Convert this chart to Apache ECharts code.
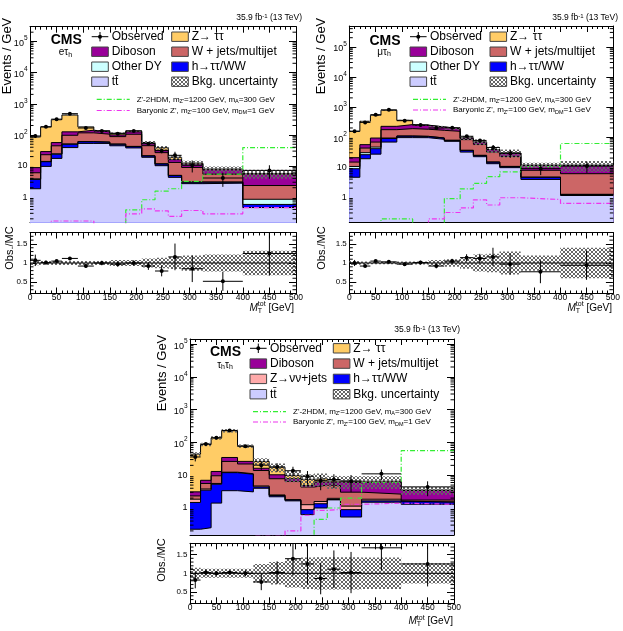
<!DOCTYPE html>
<html>
<head>
<meta charset="utf-8">
<script src="https://cdn.jsdelivr.net/npm/echarts@6/dist/echarts.min.js"></script>
<style>
  html, body { margin: 0; padding: 0; background: #fff; }
  #chart { width: 623px; height: 631px; }
</style>
</head>
<body>
<div id="chart"></div>
<script>
(function () {
    var FONT = '"Liberation Sans", Arial, Helvetica, sans-serif';

    // bin edges of M_T^tot [GeV]
    var binEdges = [0, 20, 40, 60, 90, 120, 150, 180, 210, 235, 260, 285, 325, 400, 500];

    // e tau_h (events / GeV)
    var etauTT = [1.85, 9.7, 17.5, 39, 53, 53, 44.6, 38, 19, 10.2, 4.3, 2.7, 2.8, 0.46];
    var etauHiggs = [1.85, 4.0, 6.5, 11, 7, 5, 5.4, 4, 2, 1.4, 0.6, 0.3, 0.2, 0.12];
    var etauOtherDY = [0.15, 0.3, 0.5, 1.0, 1.0, 1.0, 0.8, 0.6, 0.4, 0.2, 0.1, 0.06, 0.05, 0.27];
    var etauWjets = [2.2, 9, 20, 46, 55, 46, 37, 62, 23.5, 15, 8, 5.9, 2.4, 1.5];
    var etauDiboson = [2.8, 6, 12, 28, 25, 20, 12, 20, 8, 5, 3, 2.6, 2.1, 3.1];
    var etauZtt = [77, 151, 252, 310, 39, 9, 13, 9, 4, 7, 3, 0.8, 0.4, 0.3];
    var etauObs = [92, 182, 320, 480, 166, 134, 109, 134, 52, 31, 22, 10.5, 4.1, 7.2];
    var etauRatio = [1.07, 1.01, 1.05, 1.12, 0.92, 1.00, 0.97, 1.00, 0.92, 0.79, 1.16, 0.85, 0.52, 1.25];
    var etauRatioErr = [0.15, 0.05, 0.03, 0.03, 0.05, 0.06, 0.07, 0.07, 0.1, 0.14, 0.35, 0.35, 0.25, 0.58];
    var etauBkgUnc = [0.06, 0.05, 0.05, 0.05, 0.05, 0.05, 0.08, 0.08, 0.12, 0.14, 0.16, 0.2, 0.22, 0.32];
    var etauZp2HDM = [0.05, 0.05, 0.05, 0.05, 0.05, 0.05, 0.05, 0.39, 0.82, 1.55, 1.85, 3.2, 5.5, 39];
    var etauZpBaryonic = [0.05, 0.1, 0.17, 0.17, 0.17, 0.1, 0.1, 0.29, 0.42, 0.36, 0.24, 0.37, 0.29, 0.46];

    // mu tau_h
    var mutauTT = [4.6, 19, 27, 68, 95.6, 95, 84, 72, 31.6, 22.2, 13, 9.6, 3.9, 1.14];
    var mutauHiggs = [4.25, 6.9, 14, 21.6, 12, 10, 8.6, 5.6, 4.4, 2.3, 1.7, 0.9, 0.7, 0.09];
    var mutauOtherDY = [1.65, 4.3, 5.4, 3, 0.5, 0.5, 0.4, 0.3, 0.2, 0.1, 0.1, 0.05, 0.05, 0.02];
    var mutauWjets = [4.2, 12.8, 21.6, 83, 82, 76, 74, 77, 46, 32.5, 17, 12.2, 3.2, 4.8];
    var mutauDiboson = [5.9, 12.8, 24.6, 51, 69, 64, 48, 35, 10.6, 11, 6.4, 6.6, 3.6, 5.4];
    var mutauZtt = [134, 277, 435, 549, 101, 3, 2, 3, 0.5, 0.5, 0.3, 0.2, 0.1, 0.05];
    var mutauObs = [155, 306, 554, 800, 349, 251, 200, 203, 106, 77, 45, 28.7, 8.9, 10.8];
    var mutauRatio = [1.00, 0.92, 1.05, 1.03, 0.97, 1.01, 0.92, 1.05, 1.14, 1.12, 1.16, 0.97, 0.77, 0.94];
    var mutauRatioErr = [0.08, 0.03, 0.03, 0.02, 0.04, 0.05, 0.06, 0.06, 0.09, 0.12, 0.24, 0.28, 0.3, 0.38];
    var mutauBkgUnc = [0.05, 0.04, 0.03, 0.03, 0.04, 0.04, 0.08, 0.1, 0.15, 0.22, 0.24, 0.3, 0.2, 0.4];
    var mutauZp2HDM = [0.05, 0.05, 0.1, 0.19, 0.19, 0.12, 0.12, 0.9, 1.9, 2.9, 4.8, 7, 10.5, 61];
    var mutauZpBaryonic = [0.05, 0.05, 0.05, 0.05, 0.05, 0.05, 0.19, 0.31, 0.44, 0.82, 0.55, 0.96, 0.84, 0.62];

    // tau_h tau_h
    var tautauTT = [0.225, 0.25, 1.41, 3.37, 3.1, 4.0, 2.2, 1.65, 0.63, 1.0, 1.77, 0.53, 1.5, 1.3];
    var tautauHiggs = [1.25, 3.25, 3.9, 8.6, 7.6, 0.4, 0.2, 0.1, 0.26, 0.35, 0.05, 0.36, 0.15, 0.2];
    var tautauZnn = [0.38, 0.3, 0.3, 0.4, 0.4, 0.3, 0.1, 0.05, 0.37, 0.23, 0.15, 0.25, 0.2, 0.05];
    var tautauWjets = [0.48, 1.8, 4.0, 14, 10.9, 9.2, 5.3, 4.7, 3.1, 3.4, 2.9, 1.9, 0.8, 0.2];
    var tautauDiboson = [0.77, 1.4, 3.4, 8.4, 4.4, 2.4, 2.5, 1.35, 0.5, 1.2, 1.3, 2.9, 3.6, 1.7];
    var tautauZtt = [40.7, 80, 125, 193, 51, 10, 7.2, 2, 2.6, 1.7, 0.5, 0.6, 0.3, 0.05];
    var tautauObs = [36, 89, 138, 232, 77, 20.3, 17.9, 13.7, 9.3, 6.8, 7.4, 6.6, 11, 4.4];
    var tautauRatio = [0.82, 1.02, 1.00, 1.02, 1.00, 0.77, 1.02, 1.39, 1.25, 0.86, 1.11, 1.02, 1.68, 1.25];
    var tautauRatioErr = [0.22, 0.08, 0.06, 0.05, 0.08, 0.22, 0.3, 0.45, 0.55, 0.42, 0.5, 0.55, 0.6, 0.6];
    var tautauBkgUnc = [0.15, 0.12, 0.12, 0.12, 0.12, 0.25, 0.3, 0.38, 0.42, 0.43, 0.43, 0.43, 0.42, 0.27];
    var tautauZp2HDM = [0.05, 0.05, 0.05, 0.05, 0.05, 0.05, 0.05, 0.05, 0.05, 0.45, 1.0, 2.0, 6.0, 56];
    var tautauZpBaryonic = [0.05, 0.05, 0.05, 0.05, 0.05, 0.14, 0.14, 0.2, 0.6, 0.85, 0.9, 1.3, 1.4, 1.3];

    var COL = {
        tt: '#ccccff', higgs: '#0000ff', otherDY: '#ccffff', znn: '#ffaaaa',
        wjets: '#cc6666', diboson: '#990099', ztt: '#ffcc66',
        zp2hdm: '#33ee33', baryonic: '#ee33ee'
    };
    var DASHDOT = [5, 2, 1, 2];

    // cross hatch like ROOT style 3013
    function hatchCanvas() {
        var c = document.createElement('canvas');
        c.width = 4; c.height = 4;
        var ctx = c.getContext('2d');
        ctx.fillStyle = '#666';
        for (var i = 0; i < 4; i++) {
            ctx.fillRect(i, i, 1, 1);
            ctx.fillRect(3 - i, i, 1, 1);
        }
        return c;
    }
    var HATCH = {image: hatchCanvas(), repeat: 'repeat'};

    var measureCtx = document.createElement('canvas').getContext('2d');
    function textWidth(t, font) {
        measureCtx.font = font;
        return measureCtx.measureText(t).width;
    }

    var panels = [
        {
            mainBox: {left: 30, top: 26.7, width: 266, height: 196},
            ratioBox: {left: 30, top: 232.5, width: 266, height: 61},
            ymax: 3.0e5,
            layers: [etauTT, etauHiggs, etauOtherDY, etauWjets, etauDiboson, etauZtt],
            colors: [COL.tt, COL.higgs, COL.otherDY, COL.wjets, COL.diboson, COL.ztt],
            obs: etauObs, ratio: etauRatio, ratioErr: etauRatioErr, unc: etauBkgUnc,
            sigA: etauZp2HDM, sigB: etauZpBaryonic,
            third: ['Other DY', COL.otherDY],
            chan: 'e\u03c4{s|h}',
            cms: [66.3, 40], chanPos: [65.5, 52.5], lumi: [302, 18],
            leg: {cols: [91.7, 171.7], y0: 36.7, dy: 15, sigX: 96.7, sigY: [99.3, 110.5]},
            ytitle: [7, 56], rtitle: [10, 248], xtitle: [294, 308]
        },
        {
            mainBox: {left: 349.3, top: 26, width: 264, height: 196},
            ratioBox: {left: 349.3, top: 232.5, width: 264, height: 61},
            ymax: 4.9e5,
            layers: [mutauTT, mutauHiggs, mutauOtherDY, mutauWjets, mutauDiboson, mutauZtt],
            colors: [COL.tt, COL.higgs, COL.otherDY, COL.wjets, COL.diboson, COL.ztt],
            obs: mutauObs, ratio: mutauRatio, ratioErr: mutauRatioErr, unc: mutauBkgUnc,
            sigA: mutauZp2HDM, sigB: mutauZpBaryonic,
            third: ['Other DY', COL.otherDY],
            chan: '\u03bc\u03c4{s|h}',
            cms: [385, 40.7], chanPos: [384, 52], lumi: [618, 18],
            leg: {cols: [410, 490], y0: 36.7, dy: 15, sigX: 413, sigY: [99.3, 110]},
            ytitle: [321, 56], rtitle: [322, 248], xtitle: [612, 308]
        },
        {
            mainBox: {left: 190, top: 339, width: 264, height: 196},
            ratioBox: {left: 190, top: 543.3, width: 264, height: 60},
            ymax: 1.43e5,
            layers: [tautauTT, tautauHiggs, tautauZnn, tautauWjets, tautauDiboson, tautauZtt],
            colors: [COL.tt, COL.higgs, COL.znn, COL.wjets, COL.diboson, COL.ztt],
            obs: tautauObs, ratio: tautauRatio, ratioErr: tautauRatioErr, unc: tautauBkgUnc,
            sigA: tautauZp2HDM, sigB: tautauZpBaryonic,
            third: ['Z\u2192\u03bd\u03bd+jets', COL.znn],
            chan: '\u03c4{s|h}\u03c4{s|h}',
            cms: [225.5, 351.7], chanPos: [225, 365], lumi: [460, 330],
            leg: {cols: [250, 333.3], y0: 348.3, dy: 15.3, sigX: 253, sigY: [411.7, 422]},
            ytitle: [162, 373], rtitle: [162, 560], xtitle: [453, 621.5]
        }
    ];

    var YMIN = 0.15;
    var grids = [], xAxes = [], yAxes = [], series = [], graphics = [];

    function frameAxisX(gi, pos, labels) {
        return {
            type: 'value', gridIndex: gi, position: pos, min: 0, max: 500, interval: 50,
            axisLine: {show: true, onZero: false, lineStyle: {color: '#000', width: 1}},
            axisTick: {show: true, inside: true, length: 6, lineStyle: {color: '#000', width: 1}},
            minorTick: {show: true, splitNumber: 5, length: 3, lineStyle: {color: '#000', width: 1}},
            axisLabel: {show: labels, fontSize: 8.5, color: '#000', margin: 0},
            splitLine: {show: false}
        };
    }

    function logAxisY(gi, pos, ymax, labels) {
        return {
            type: 'log', logBase: 10, gridIndex: gi, position: pos, min: YMIN, max: ymax,
            axisLine: {show: true, onZero: false, lineStyle: {color: '#000', width: 1}},
            axisTick: {show: true, inside: true, length: 7, lineStyle: {color: '#000', width: 1}},
            axisLabel: {
                show: labels, color: '#000', fontSize: 9, margin: 2.5,
                formatter: function (v) {
                    var e = Math.log10(v), r = Math.round(e);
                    if (Math.abs(e - r) > 1e-6) return '';
                    if (r === 0) return '1';
                    if (r === 1) return '10';
                    return '{b|10}{s|' + r + '}';
                },
                rich: {
                    b: {fontSize: 9, verticalAlign: 'bottom', padding: [4, 0, 0, 0]},
                    s: {fontSize: 6.5, verticalAlign: 'top'}
                }
            },
            splitLine: {show: false}
        };
    }

    function ratioAxisY(gi, pos, labels) {
        return {
            type: 'value', gridIndex: gi, position: pos, min: 0.2, max: 1.8, splitNumber: 3,
            axisLine: {show: true, onZero: false, lineStyle: {color: '#000', width: 1}},
            axisTick: {show: true, inside: true, length: 7, lineStyle: {color: '#000', width: 1}},
            axisLabel: {
                show: labels, color: '#000', fontSize: 8, margin: 2.5,
                formatter: function (v) {
                    if (Math.abs(v - 0.5) < 1e-6) return '0.5';
                    if (Math.abs(v - 1) < 1e-6) return '1';
                    if (Math.abs(v - 1.5) < 1e-6) return '1.5';
                    return '';
                }
            },
            splitLine: {show: false}
        };
    }

    // short tick marks on both y edges (log minor ticks, ratio minor ticks)
    function tickSeries(xi, yi, values, len) {
        return {
            type: 'custom', xAxisIndex: xi, yAxisIndex: yi, silent: true, z: 8,
            data: values.map(function (v) { return [0, v]; }),
            renderItem: function (params, api) {
                var v = api.value(1);
                var a = api.coord([0, v]), b = api.coord([500, v]);
                return {
                    type: 'group', children: [
                        {type: 'line', shape: {x1: a[0], y1: a[1], x2: a[0] + len, y2: a[1]}, style: {stroke: '#000', lineWidth: 1}},
                        {type: 'line', shape: {x1: b[0] - len, y1: b[1], x2: b[0], y2: b[1]}, style: {stroke: '#000', lineWidth: 1}}
                    ]
                };
            }
        };
    }

    function stepData(vals) {
        return binEdges.map(function (e, i) {
            return [e, vals[Math.min(i, vals.length - 1)]];
        });
    }

    function bandSeries(xi, yi, centers, rel, z) {
        return {
            type: 'custom', xAxisIndex: xi, yAxisIndex: yi, silent: true, clip: true, z: z,
            data: centers.map(function (c, i) {
                return [binEdges[i], binEdges[i + 1], c * (1 - rel[i]), c * (1 + rel[i])];
            }),
            renderItem: function (params, api) {
                var p0 = api.coord([api.value(0), api.value(3)]);
                var p1 = api.coord([api.value(1), Math.max(api.value(2), 1e-3)]);
                return {
                    type: 'rect',
                    shape: {x: p0[0], y: p0[1], width: p1[0] - p0[0], height: p1[1] - p0[1]},
                    style: {fill: HATCH}
                };
            }
        };
    }

    function pointSeries(xi, yi, vals, errs, z) {
        return {
            type: 'custom', xAxisIndex: xi, yAxisIndex: yi, silent: true, clip: true, z: z,
            data: vals.map(function (v, i) {
                return [binEdges[i], binEdges[i + 1], v, errs[i]];
            }),
            renderItem: function (params, api) {
                var lo = api.value(0), hi = api.value(1), v = api.value(2), e = api.value(3);
                var mid = (lo + hi) / 2;
                var pl = api.coord([lo, v]), pr = api.coord([hi, v]);
                var pt = api.coord([mid, v + e]), pb = api.coord([mid, Math.max(v - e, 1e-3)]);
                return {
                    type: 'group', children: [
                        {type: 'line', shape: {x1: pl[0], y1: pl[1], x2: pr[0], y2: pr[1]}, style: {stroke: '#000', lineWidth: 1}},
                        {type: 'line', shape: {x1: pt[0], y1: pt[1], x2: pb[0], y2: pb[1]}, style: {stroke: '#000', lineWidth: 1}},
                        {type: 'circle', shape: {cx: (pl[0] + pr[0]) / 2, cy: pl[1], r: 2}, style: {fill: '#000'}}
                    ]
                };
            }
        };
    }

    function txt(x, y, text, opt) {
        opt = opt || {};
        return {
            type: 'text', x: x, y: y, z: 100, silent: true, rotation: opt.rotation || 0,
            style: {
                text: text, fontFamily: FONT, fontSize: opt.size || 12,
                fontWeight: opt.weight || 'normal', fontStyle: opt.style || 'normal',
                fill: '#000', align: opt.align || 'left', verticalAlign: 'middle',
                rich: opt.rich
            }
        };
    }

    panels.forEach(function (p, k) {
        var gm = 2 * k, gr = 2 * k + 1;
        var xm = 4 * k, xr = 4 * k + 2;
        grids.push({left: p.mainBox.left, top: p.mainBox.top, width: p.mainBox.width, height: p.mainBox.height});
        grids.push({left: p.ratioBox.left, top: p.ratioBox.top, width: p.ratioBox.width, height: p.ratioBox.height});

        xAxes.push(frameAxisX(gm, 'bottom', false), frameAxisX(gm, 'top', false));
        xAxes.push(frameAxisX(gr, 'bottom', true), frameAxisX(gr, 'top', false));
        yAxes.push(logAxisY(gm, 'left', p.ymax, true), logAxisY(gm, 'right', p.ymax, false));
        yAxes.push(ratioAxisY(gr, 'left', true), ratioAxisY(gr, 'right', false));

        // cumulative stack, drawn from the top layer down
        var cum = [], run = binEdges.slice(0, -1).map(function () { return 0; });
        p.layers.forEach(function (layer) {
            run = run.map(function (r, i) { return r + layer[i]; });
            cum.push(run);
        });
        for (var L = cum.length - 1; L >= 0; L--) {
            series.push({
                type: 'line', xAxisIndex: xm, yAxisIndex: xm, step: 'end', symbol: 'none',
                silent: true, z: 2, data: stepData(cum[L]),
                lineStyle: {color: '#000', width: 1},
                areaStyle: {color: p.colors[L], opacity: 1, origin: 'start'}
            });
        }
        var total = cum[cum.length - 1];

        // signal lines
        [[p.sigA, COL.zp2hdm], [p.sigB, COL.baryonic]].forEach(function (s) {
            series.push({
                type: 'line', xAxisIndex: xm, yAxisIndex: xm, step: 'end', symbol: 'none',
                silent: true, z: 3, data: stepData(s[0]),
                lineStyle: {color: s[1], width: 1.2, type: DASHDOT}
            });
        });

        series.push(bandSeries(xm, xm, total, p.unc, 4));
        var obsErr = p.obs.map(function (v, i) { return v * p.ratioErr[i] / p.ratio[i]; });
        series.push(pointSeries(xm, xm, p.obs, obsErr, 6));

        // ratio panel
        series.push(bandSeries(xr, xr, total.map(function () { return 1; }), p.unc, 4));
        series.push({
            type: 'line', xAxisIndex: xr, yAxisIndex: xr, symbol: 'none', silent: true, z: 5,
            data: [[0, 1], [500, 1]], lineStyle: {color: '#000', width: 1}
        });
        series.push(pointSeries(xr, xr, p.ratio, p.ratioErr, 6));

        // minor ticks
        var minors = [];
        for (var d = -1; d <= 5; d++) {
            for (var m = 2; m <= 9; m++) {
                var v = m * Math.pow(10, d);
                if (v > YMIN && v < p.ymax) minors.push(v);
            }
        }
        series.push(tickSeries(xm, xm, minors, 3.5));
        var rminors = [];
        for (var q = 3; q <= 17; q++) {
            if (q % 5 !== 0) rminors.push(q / 10);
        }
        series.push(tickSeries(xr, xr, rminors, 3.5));

        // texts
        var sub = {s: {fontSize: 7, verticalAlign: 'bottom', padding: [5, 0, 0, 0]}};
        graphics.push(txt(p.cms[0], p.cms[1], 'CMS', {size: 14, weight: 'bold', align: 'center'}));
        graphics.push(txt(p.chanPos[0], p.chanPos[1], p.chan, {size: 10, align: 'center', rich: sub}));
        graphics.push(txt(p.lumi[0], p.lumi[1], '35.9 fb{sp|-1} (13 TeV)', {
            size: 8.5, align: 'right',
            rich: {sp: {fontSize: 6, verticalAlign: 'top', padding: [0, 0, 4, 0]}}
        }));
        graphics.push(txt(p.ytitle[0], p.ytitle[1], 'Events / GeV', {size: 13, align: 'center', rotation: Math.PI / 2}));
        graphics.push(txt(p.rtitle[0], p.rtitle[1], 'Obs./MC', {size: 11, align: 'center', rotation: Math.PI / 2}));

        // x title: M_T^tot [GeV]
        var fM = 'italic 10px ' + FONT, fS = '7px ' + FONT, fR = '10px ' + FONT;
        var wM = textWidth('M', fM), wS = textWidth('tot', fS), wR = textWidth(' [GeV]', fR);
        var x0 = p.xtitle[0] - (wM + wS + wR), ty = p.xtitle[1];
        graphics.push(txt(x0, ty, 'M', {size: 10, style: 'italic'}));
        graphics.push(txt(x0 + wM, ty - 3.5, 'tot', {size: 7}));
        graphics.push(txt(x0 + wM, ty + 3, 'T', {size: 7}));
        graphics.push(txt(x0 + wM + wS, ty, ' [GeV]', {size: 10}));

        // legend
        var lg = p.leg, bw = 16.6, bh = 9.4;
        var rows = [
            [{kind: 'obs', text: 'Observed'}, {kind: 'box', color: COL.ztt, text: 'Z\u2192 \u03c4\u03c4'}],
            [{kind: 'box', color: COL.diboson, text: 'Diboson'}, {kind: 'box', color: COL.wjets, text: 'W + jets/multijet'}],
            [{kind: 'box', color: p.third[1], text: p.third[0]}, {kind: 'box', color: COL.higgs, text: 'h\u2192\u03c4\u03c4/WW'}],
            [{kind: 'box', color: COL.tt, text: 'tt\u0304'}, {kind: 'hatch', text: 'Bkg. uncertainty'}]
        ];
        rows.forEach(function (row, r) {
            var y = lg.y0 + r * lg.dy;
            row.forEach(function (item, c) {
                var x = lg.cols[c];
                if (item.kind === 'obs') {
                    graphics.push({type: 'line', z: 100, silent: true, shape: {x1: x, y1: y, x2: x + bw, y2: y}, style: {stroke: '#000', lineWidth: 1}});
                    graphics.push({type: 'line', z: 100, silent: true, shape: {x1: x + bw / 2, y1: y - bh / 2, x2: x + bw / 2, y2: y + bh / 2}, style: {stroke: '#000', lineWidth: 1}});
                    graphics.push({type: 'circle', z: 100, silent: true, shape: {cx: x + bw / 2, cy: y, r: 2}, style: {fill: '#000'}});
                } else {
                    graphics.push({
                        type: 'rect', z: 100, silent: true,
                        shape: {x: x, y: y - bh / 2, width: bw, height: bh},
                        style: {fill: item.kind === 'hatch' ? HATCH : item.color, stroke: '#444', lineWidth: 1}
                    });
                }
                graphics.push(txt(x + bw + 3.4, y, item.text, {size: 12}));
            });
        });

        var sigSub = {s: {fontSize: 5.5, verticalAlign: 'bottom', padding: [4, 0, 0, 0]}};
        var sigs = [
            [COL.zp2hdm, "Z'-2HDM, m{s|Z'}=1200 GeV, m{s|A}=300 GeV"],
            [COL.baryonic, "Baryonic Z', m{s|Z'}=100 GeV, m{s|DM}=1 GeV"]
        ];
        sigs.forEach(function (s, i) {
            var y = lg.sigY[i];
            graphics.push({type: 'line', z: 100, silent: true, shape: {x1: lg.sigX, y1: y, x2: lg.sigX + 33, y2: y}, style: {stroke: s[0], lineWidth: 1.2, lineDash: DASHDOT}});
            graphics.push(txt(lg.sigX + 40, y, s[1], {size: 8, rich: sigSub}));
        });
    });

    var option = {
        animation: false,
        textStyle: {fontFamily: FONT},
        grid: grids,
        xAxis: xAxes,
        yAxis: yAxes,
        series: series,
        graphic: graphics
    };

    var myChart = echarts.init(document.getElementById('chart'), null, {renderer: 'canvas'});
    myChart.setOption(option);
})();
</script>
</body>
</html>
